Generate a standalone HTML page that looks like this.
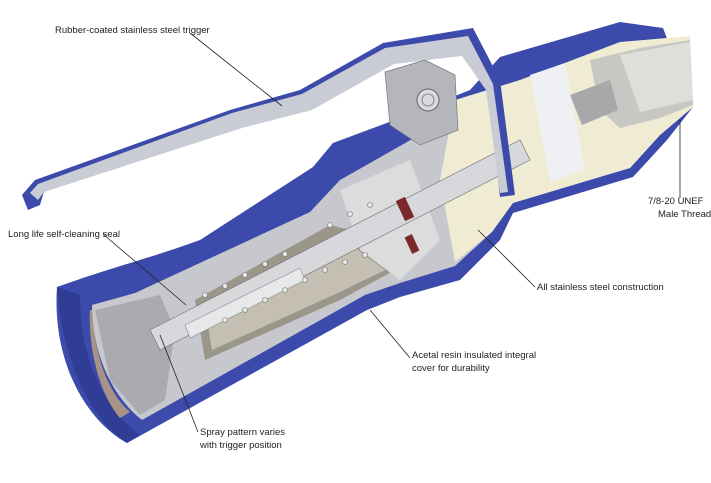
<!DOCTYPE html>
<html><head><meta charset="utf-8"><style>
html,body{margin:0;padding:0;background:#fff;}
svg{display:block;}
text{font-family:"Liberation Sans",sans-serif;font-size:9.5px;fill:#222;}
</style></head><body>
<svg width="711" height="483" viewBox="0 0 711 483" xmlns="http://www.w3.org/2000/svg">
<!-- blue body -->
<path d="M57,287 C110,268 160,255 200,240 L313,167 L333,143 L400,118 L470,90 L500,57 L620,22 L663,28 L693,107 L667,140 L633,177 L513,213 L500,240 L460,280 L400,297 L367,310 L127,443 C85,420 52,360 57,287 Z" fill="#3c4bab"/>
<!-- front face lighter ring -->
<path d="M57,287 C62,360 90,420 127,443 L140,435 C105,410 80,360 80,295 Z" fill="#2f3d95"/>
<!-- inner light grey -->
<path d="M92,305 L135,293 L310,212 L340,180 L460,112 L520,80 L600,58 L690,42 L693,107 L660,135 L630,168 L510,203 L492,232 L455,266 L400,283 L365,295 L142,420 C110,395 92,350 92,305 Z" fill="#c6c8cd"/>
<!-- front plug darker grey -->
<polygon points="95,310 160,295 175,330 165,400 140,415 110,380" fill="#a9abb1"/>
<path d="M92,310 C95,360 110,395 130,412 L120,418 C100,395 88,350 90,310 Z" fill="#a89486"/>
<!-- spring chamber -->
<polygon points="195,300 330,225 350,230 395,270 340,300 205,360" fill="#9b968a"/>
<polygon points="205,308 330,238 345,240 385,270 340,292 212,350" fill="#c4bfb2"/>
<polygon points="340,190 410,160 440,240 400,280 360,250" fill="#dcdcdc"/>
<!-- cream rear -->
<polygon points="455,100 520,80 620,42 690,36 693,107 660,135 630,168 513,203 492,232 455,262 440,180" fill="#f0ecd4"/>
<polygon points="530,75 565,63 585,170 550,182" fill="#eef0f3"/>
<polygon points="590,60 640,48 690,40 693,105 660,118 620,128 600,110" fill="#c7c7c4"/>
<polygon points="620,55 690,42 693,100 640,112" fill="#dededb"/>
<polygon points="570,95 610,80 618,110 582,125" fill="#a8a8aa"/>
<!-- rods -->
<polygon points="150,330 520,140 530,160 160,350" fill="#d6d8dc" stroke="#777" stroke-width="0.7"/>
<polygon points="185,325 300,268 305,280 190,338" fill="#e7e8ea" stroke="#888" stroke-width="0.6"/>
<rect x="400" y="198" width="10" height="22" fill="#7a2a2a" transform="rotate(-25 405 209)"/>
<rect x="408" y="235" width="8" height="18" fill="#7a2a2a" transform="rotate(-25 412 244)"/>
<g fill="#e8e8ec" stroke="#777" stroke-width="0.6">
<circle cx="205" cy="295" r="2.5"/><circle cx="225" cy="286" r="2.5"/><circle cx="245" cy="275" r="2.5"/><circle cx="265" cy="264" r="2.5"/><circle cx="285" cy="254" r="2.5"/><circle cx="330" cy="225" r="2.5"/><circle cx="350" cy="214" r="2.5"/><circle cx="370" cy="205" r="2.5"/>
<circle cx="225" cy="320" r="2.5"/><circle cx="245" cy="310" r="2.5"/><circle cx="265" cy="300" r="2.5"/><circle cx="285" cy="290" r="2.5"/><circle cx="305" cy="280" r="2.5"/><circle cx="325" cy="270" r="2.5"/><circle cx="345" cy="262" r="2.5"/><circle cx="365" cy="255" r="2.5"/>
</g>
<!-- trigger -->
<path d="M22,195 L35,180 L230,110 L300,90 L383,43 L473,28 L500,80 L515,195 L500,197 L488,85 L465,48 L392,58 L310,105 L240,125 L45,188 L40,205 L28,210 Z" fill="#3c4bab"/>
<path d="M30,193 L38,184 L232,113 L302,94 L385,48 L468,36 L493,84 L508,192 L500,193 L486,90 L462,56 L394,64 L312,110 L242,128 L44,192 L38,200 Z" fill="#c9ccd4"/>
<!-- block -->
<polygon points="385,72 425,60 455,75 458,130 420,145 390,125" fill="#b4b6bb" stroke="#777" stroke-width="0.7"/>
<circle cx="428" cy="100" r="11" fill="#d8dadd" stroke="#666"/>
<circle cx="428" cy="100" r="6" fill="none" stroke="#888"/>
<!-- leader lines -->
<g stroke="#222" stroke-width="0.8" fill="none">
<line x1="190" y1="33" x2="282" y2="106"/>
<line x1="103" y1="234" x2="186" y2="305"/>
<line x1="680" y1="198" x2="680" y2="120"/>
<line x1="535" y1="287" x2="478" y2="230"/>
<line x1="410" y1="358" x2="370" y2="310"/>
<line x1="198" y1="432" x2="160" y2="335"/>
</g>
<text x="55" y="33">Rubber-coated stainless steel trigger</text>
<text x="8" y="237">Long life self-cleaning seal</text>
<text x="648" y="204">7/8-20 UNEF</text>
<text x="658" y="217">Male Thread</text>
<text x="537" y="290">All stainless steel construction</text>
<text x="412" y="358">Acetal resin insulated integral</text>
<text x="412" y="371">cover for durability</text>
<text x="200" y="435">Spray pattern varies</text>
<text x="200" y="448">with trigger position</text>
</svg>
</body></html>
